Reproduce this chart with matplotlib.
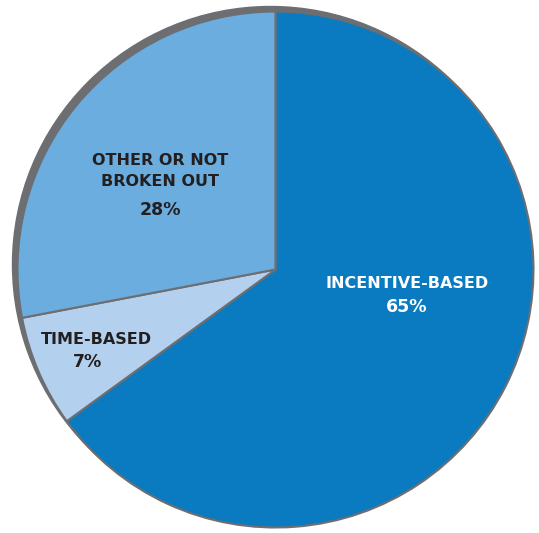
import matplotlib.pyplot as plt
from matplotlib.patches import Circle

# shares of the programs
names = ['INCENTIVE-BASED', 'TIME-BASED', 'OTHER OR NOT\nBROKEN OUT']
shares = [65, 7, 28]
colors = ['#0A7BC1', '#B3D1EE', '#6AADDE']
text_colors = ['white', '#231F20', '#231F20']
# label positions in pixels (x, y from top)
label_pos = [(407, 283), (96, 339), (160, 171)]
pct_pos = [(407, 307), (88, 362), (160, 210)]

W, H = 539, 533
fig = plt.figure(figsize=(W / 100, H / 100), dpi=100)
ax = fig.add_axes([0, 0, 1, 1])

cx, cy, r = 275.5, H - 269.5, 258

# gray shadow ring on upper left
ax.add_patch(Circle((cx - 5, cy + 5), r, color='#6D6E71', zorder=0))

ax.pie(shares, colors=colors, startangle=90, counterclock=False,
       center=(cx, cy), radius=r, frame=True,
       wedgeprops=dict(edgecolor='#6D6E71', linewidth=1.5))
ax.set_xlim(0, W)
ax.set_ylim(0, H)
ax.set_aspect('equal')
ax.axis('off')

for i in range(len(names)):
    x, y = label_pos[i]
    ax.text(x, H - y, names[i], ha='center', va='center', color=text_colors[i],
            fontsize=11.5, fontweight='bold', family='DejaVu Sans', linespacing=1.45)
    x, y = pct_pos[i]
    ax.text(x, H - y, f'{shares[i]}%', ha='center', va='center', color=text_colors[i],
            fontsize=12.5, fontweight='bold', family='DejaVu Sans')

fig.savefig('out.png', dpi=100)
